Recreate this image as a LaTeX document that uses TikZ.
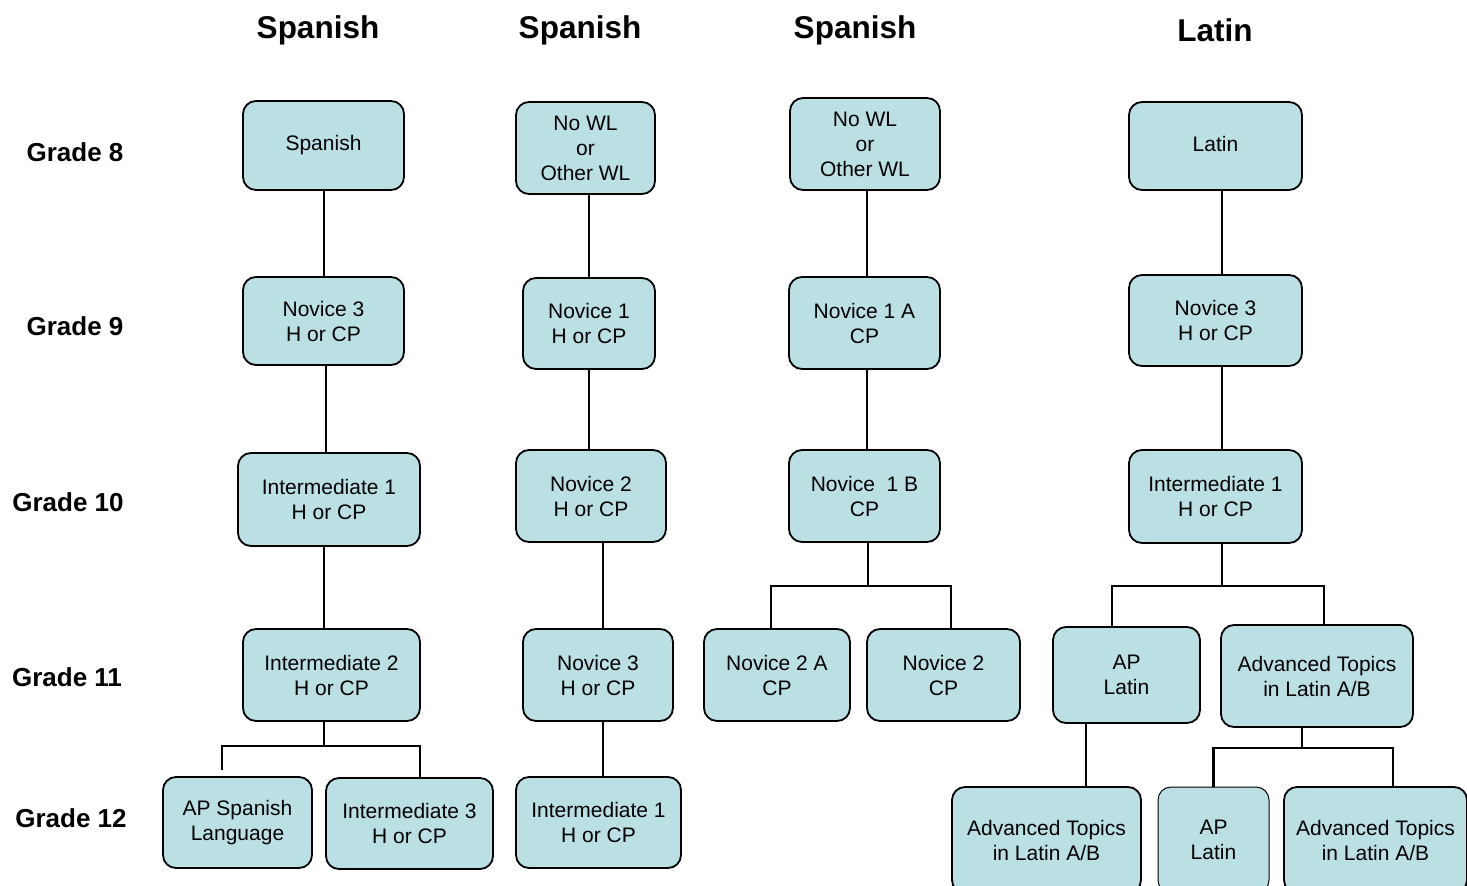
\documentclass[tikz,border=0pt]{standalone}
\usepackage{fontspec}
\setmainfont{Liberation Sans}
\usetikzlibrary{calc}
\definecolor{boxfill}{HTML}{BBE0E3}
\begin{document}
\begin{tikzpicture}[x=1pt,y=-1pt,
  crs/.style={draw=black,line width=1.8pt,fill=boxfill,rounded corners=13pt,
     align=center,font=\fontsize{21}{25}\selectfont,inner sep=0pt},
  link/.style={line width=1.7pt},
  thick link/.style={line width=2.6pt},
  head/.style={font=\fontsize{31.5}{36}\selectfont\bfseries},
  grade/.style={font=\fontsize{26}{30}\selectfont\bfseries}]
\useasboundingbox (0,0) rectangle (1467,886);
% headers
\node[head] (h1) at (318,30) {Spanish};
\node[head] (h2) at (580,30) {Spanish};
\node[head] (h3) at (855,30) {Spanish};
\node[head] (h4) at (1215,30) {Latin};
% grades
\node[grade] (g8) at (75,152) {Grade 8};
\node[grade] (g9) at (75,326) {Grade 9};
\node[grade] (g10) at (68,502) {Grade 10};
\node[grade] (g11) at (67,677) {Grade 11};
\node[grade] (g12) at (71,818) {Grade 12};
% column 1
\node[crs,minimum width=161,minimum height=89] (a1) at (323.5,145.5) {\strut Spanish};
\node[crs,minimum width=161,minimum height=88] (a2) at (323.5,321) {Novice 3\\H or CP};
\node[crs,minimum width=182,minimum height=93] (a3) at (329,499.5) {Intermediate 1\\H or CP};
\node[crs,minimum width=177,minimum height=92] (a4) at (331.5,675) {Intermediate 2\\H or CP};
\node[crs,minimum width=149,minimum height=91] (a5) at (237.5,822.5) {AP Spanish\\Language};
\node[crs,minimum width=167,minimum height=91] (a6) at (409.5,823.5) {Intermediate 3\\H or CP};
% column 2
\node[crs,minimum width=139,minimum height=92] (b1) at (585.5,148) {No WL\\or\\Other WL};
\node[crs,minimum width=132,minimum height=91] (b2) at (589,323.5) {Novice 1\\H or CP};
\node[crs,minimum width=150,minimum height=92] (b3) at (591,496) {Novice 2\\H or CP};
\node[crs,minimum width=150,minimum height=92] (b4) at (598,675) {Novice 3\\H or CP};
\node[crs,minimum width=165,minimum height=91] (b5) at (598.5,822.5) {Intermediate 1\\H or CP};
% column 3
\node[crs,minimum width=150,minimum height=92] (c1) at (865,144) {No WL\\or\\Other WL};
\node[crs,minimum width=151,minimum height=92] (c2) at (864.5,323) {Novice 1 A\\CP};
\node[crs,minimum width=151,minimum height=92] (c3) at (864.5,496) {Novice~~1 B\\CP};
\node[crs,minimum width=146,minimum height=92] (c4) at (777,675) {Novice 2 A\\CP};
\node[crs,minimum width=153,minimum height=92] (c5) at (943.5,675) {Novice 2\\CP};
% column 4
\node[crs,minimum width=173,minimum height=88] (d1) at (1215.5,146) {\strut Latin};
\node[crs,minimum width=173,minimum height=91] (d2) at (1215.5,320.5) {Novice 3\\H or CP};
\node[crs,minimum width=173,minimum height=93] (d3) at (1215.5,496.5) {Intermediate 1\\H or CP};
\node[crs,minimum width=147,minimum height=96] (d4) at (1126.5,675) {AP\\Latin};
\node[crs,minimum width=192,minimum height=102] (d5) at (1317,676) {Advanced Topics\\in Latin A/B};
\node[crs,minimum width=189,minimum height=106] (d6) at (1046.5,840) {Advanced Topics\\in Latin A/B};
\node[crs,minimum width=111,minimum height=106,line width=1pt] (d7) at (1213.5,840) {AP\\Latin};
\node[crs,minimum width=183,minimum height=106] (d8) at (1375.5,840) {Advanced Topics\\in Latin A/B};
% connectors column 1
\draw[link] ([xshift=0.5]a1.south) -- ([xshift=0.5]a1.south |- a2.north);
\draw[link] ([xshift=2.5]a2.south) -- ([xshift=2.5]a2.south |- a3.north);
\draw[link] ([xshift=-5]a3.south) -- ([xshift=-5]a3.south |- a4.north);
\coordinate (j1) at (324,746);
\draw[link] (a4.south -| j1) -- (j1);
\draw[link] ([xshift=-15.5,yshift=6]a5.north) |- ([xshift=10.5]a6.north |- j1) -- ([xshift=10.5]a6.north);
% column 2
\draw[link] (b1.south -| b2.north) -- (b2.north);
\draw[link] (b2.south) -- (b2.south |- b3.north);
\draw[link] ([xshift=5]b4.north |- b3.south) -- ([xshift=5]b4.north);
\draw[link] ([xshift=5]b4.south) -- ([xshift=5]b4.south |- b5.north);
% column 3
\draw[link] ([xshift=2]c1.south) -- ([xshift=2]c1.south |- c2.north);
\draw[link] ([xshift=2.5]c2.south) -- ([xshift=2.5]c2.south |- c3.north);
\coordinate (j3) at (868,586);
\draw[link] (c3.south -| j3) -- (j3);
\draw[link] ([xshift=-6]c4.north) |- ([xshift=7.5]c5.north |- j3) -- ([xshift=7.5]c5.north);
% column 4
\draw[link] ([xshift=6.5]d1.south) -- ([xshift=6.5]d1.south |- d2.north);
\draw[link] ([xshift=6.5]d2.south) -- ([xshift=6.5]d2.south |- d3.north);
\coordinate (j4) at (1222,586);
\draw[link] (d3.south -| j4) -- (j4);
\draw[link] ([xshift=-14.5]d4.north) |- ([xshift=7]d5.north |- j4) -- ([xshift=7]d5.north);
\draw[link] ([xshift=-40.5]d4.south) -- ([xshift=-40.5]d4.south |- d6.north);
\coordinate (j5) at (1302,748);
\draw[link] (d5.south -| j5) -- (j5);
\draw[thick link] (d7.north) |- ([xshift=17.5]d8.north |- j5) -- ([xshift=17.5]d8.north);
\end{tikzpicture}
\end{document}
